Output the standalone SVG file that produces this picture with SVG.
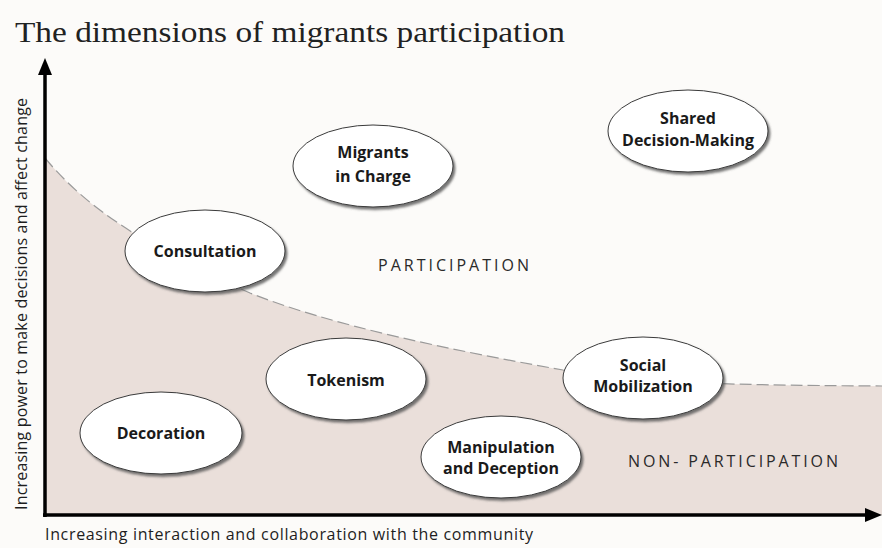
<svg xmlns="http://www.w3.org/2000/svg" width="882" height="548" viewBox="0 0 882 548">
<defs>
<style>
.node ellipse{fill:#ffffff;stroke:#3a3a3a;stroke-width:1;filter:url(#shadow)}
.node text{font-family:"Open Sans","Liberation Sans",sans-serif;font-weight:700;font-size:16px;fill:#1a1a1a;text-anchor:middle}
.zone{font-family:"Open Sans","Liberation Sans",sans-serif;font-size:16px;fill:#2a2a2a}
.axislabel{font-family:"Open Sans","Liberation Sans",sans-serif;font-size:16px;fill:#1e1e1e}
.axis{stroke:#000;stroke-width:3.5;fill:none;marker-end:url(#arrow)}
</style>
<filter id="shadow" x="-20%" y="-20%" width="150%" height="160%">
<feDropShadow dx="2" dy="2.5" stdDeviation="1.2" flood-color="#555" flood-opacity="0.8"/>
</filter>
<marker id="arrow" markerUnits="userSpaceOnUse" markerWidth="18" markerHeight="14" refX="10" refY="7" orient="auto">
<path d="M0,0 L17,7 L0,14 z" fill="#000"/>
</marker>
</defs>
<rect width="882" height="548" fill="#fcfbf9"/>
<text x="15" y="42" font-family="Liberation Serif, serif" font-size="30" fill="#1f2222" textLength="550" lengthAdjust="spacingAndGlyphs">The dimensions of migrants participation</text>
<g id="regions">
<path d="M45,158 C80,200 130,240 250,293 C330,325 450,350 563,370 C640,382 700,385 882,386 L882,515 L45,515 Z" fill="#eadfda"/>
<path d="M45,158 C80,200 130,240 250,293 C330,325 450,350 563,370 C640,382 700,385 882,386" fill="none" stroke="#9a9a9a" stroke-width="1.2" stroke-dasharray="12 5"/>
<text class="zone" x="378" y="271" textLength="151" lengthAdjust="spacing">PARTICIPATION</text>
<text class="zone" x="628" y="467" textLength="210" lengthAdjust="spacing">NON-  PARTICIPATION</text>
</g>
<g id="connectors">
<line class="axis" x1="45" y1="517" x2="45" y2="65"/>
<line class="axis" x1="43" y1="515" x2="875" y2="515"/>
</g>
<text class="axislabel" transform="translate(27,304) rotate(-90)" text-anchor="middle" textLength="412" lengthAdjust="spacing">Increasing power to make decisions and affect change</text>
<text class="axislabel" x="45" y="540" textLength="488" lengthAdjust="spacing">Increasing interaction and collaboration with the community</text>
<g id="shared-decision-making" class="node">
<ellipse cx="688" cy="131" rx="80" ry="41"/>
<text x="688" y="124">Shared</text>
<text x="688" y="146">Decision-Making</text>
</g>
<g id="migrants-in-charge" class="node">
<ellipse cx="373" cy="166" rx="80" ry="41"/>
<text x="373" y="158">Migrants</text>
<text x="373" y="182">in Charge</text>
</g>
<g id="consultation" class="node">
<ellipse cx="205" cy="251" rx="80" ry="41"/>
<text x="205" y="257">Consultation</text>
</g>
<g id="social-mobilization" class="node">
<ellipse cx="643" cy="378" rx="80" ry="41"/>
<text x="643" y="371">Social</text>
<text x="643" y="392">Mobilization</text>
</g>
<g id="tokenism" class="node">
<ellipse cx="346" cy="379" rx="80" ry="41"/>
<text x="346" y="386">Tokenism</text>
</g>
<g id="decoration" class="node">
<ellipse cx="161" cy="433" rx="81" ry="41"/>
<text x="161" y="439">Decoration</text>
</g>
<g id="manipulation-and-deception" class="node">
<ellipse cx="501" cy="457" rx="80" ry="41"/>
<text x="501" y="453">Manipulation</text>
<text x="501" y="474">and Deception</text>
</g>
</svg>
